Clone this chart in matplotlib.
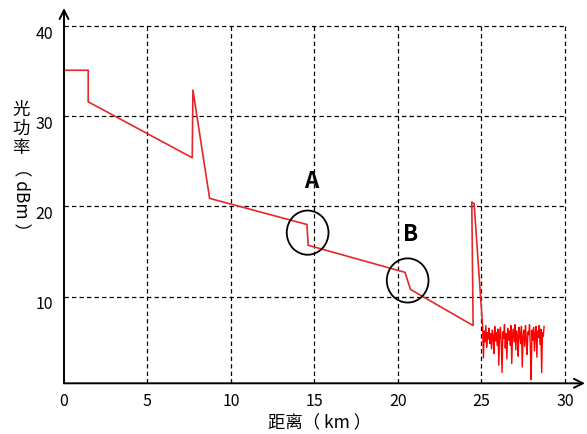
import matplotlib
matplotlib.use('Agg')
import matplotlib.pyplot as plt
import matplotlib.transforms as mtrans
from matplotlib.patches import Ellipse
import numpy as np

plt.rcParams['font.family'] = ['Noto Sans CJK SC', 'DejaVu Sans']

# main OTDR trace (distance km, power dBm)
trace_x = [0.1, 1.45, 1.45, 7.68, 7.72, 8.72, 14.55, 14.62, 20.42, 20.75, 24.5, 24.42, 24.56, 25.07]
trace_y = [35.1, 35.1, 31.6, 25.4, 32.9, 20.9, 18.0, 15.7, 12.7, 10.8, 6.8, 20.5, 20.3, 6.7]

# noise floor after fibre end
noise_start, noise_end = 25.07, 28.75
noise_y = [6.6, 3.2, 6.2, 5.0, 6.8, 4.4, 6.0, 5.3, 6.5, 4.8, 5.9, 4.2, 6.3, 5.6, 3.7, 6.7,
           5.1, 6.0, 4.6, 6.4, 2.4, 5.8, 6.6, 4.9, 1.6, 6.1, 5.4, 6.9, 4.3, 5.9, 3.1, 6.5,
           5.2, 6.2, 4.6, 6.8, 2.6, 5.7, 6.4, 5.0, 6.9, 4.1, 6.2, 5.5, 3.4, 6.6, 5.9, 4.8,
           6.7, 2.2, 5.6, 6.3, 4.5, 6.8, 5.3, 3.6, 6.1, 5.8, 6.9, 4.4, 0.8, 6.3, 5.2, 6.6,
           4.0, 5.9, 6.7, 3.3, 6.2, 5.5, 6.8, 4.7, 6.4, 1.6, 6.0, 5.6, 6.7]

x_ticks = [0, 5, 10, 15, 20, 25, 30]
y_ticks = [10, 20, 30, 40]

# event markers
events = ['A', 'B']
event_x = [14.59, 20.58]
event_y = [17.1, 11.8]
label_x = [14.79, 20.76]
label_y = [22.8, 16.9]

fig = plt.figure(figsize=(5.87, 4.34), dpi=100)
ax = fig.add_axes([64 / 587, 1 - 383.3 / 434, 521 / 587, 375.3 / 434])
ax.set_xlim(0, 31.2)
ax.set_ylim(0.4, 42)

# dashed grid box
for gx in x_ticks[1:]:
    ax.plot([gx, gx], [0.4, 40], color='black', lw=0.9, dashes=(3.5, 2.5), zorder=1)
for gy in y_ticks:
    ax.plot([0, 30], [gy, gy], color='black', lw=0.9, dashes=(3.5, 2.5), zorder=1)

ax.plot(trace_x, trace_y, color='#e5262b', lw=1.2, zorder=3)
nx = np.linspace(noise_start, noise_end, len(noise_y))
ax.plot(nx, noise_y, color='#ff0000', lw=1.0, zorder=3)

for name, ex, ey, lx, ly in zip(events, event_x, event_y, label_x, label_y):
    ax.add_patch(Ellipse((ex, ey), 2.5, 4.9, fill=False, ec='black', lw=1.3, zorder=4))
    ax.text(lx, ly, name, fontsize=16, fontweight='bold', ha='center', va='center', zorder=5)

# axes with arrows
for s in ax.spines.values():
    s.set_visible(False)
ax.annotate('', xy=(1, 0), xytext=(0, 0), xycoords='axes fraction',
            arrowprops=dict(arrowstyle='->', lw=1.4, color='black', mutation_scale=16,
                            shrinkA=0, shrinkB=0))
ax.annotate('', xy=(0, 1), xytext=(0, 0), xycoords='axes fraction',
            arrowprops=dict(arrowstyle='->', lw=1.4, color='black', mutation_scale=16,
                            shrinkA=0, shrinkB=0))

ax.set_xticks(x_ticks)
ax.set_yticks(y_ticks)
ax.tick_params(axis='both', direction='in', length=3, width=0.8, labelsize=11.5, colors='black')
ax.tick_params(axis='x', pad=7)
ax.tick_params(axis='y', pad=8, length=0)
off = mtrans.ScaledTranslation(0, -6 / 100, fig.dpi_scale_trans)
for lbl in ax.get_yticklabels():
    lbl.set_transform(lbl.get_transform() + off)

# vertical y label: upright CJK, rotated latin part
for ch, py in zip(['光', '功', '率'], [110, 129, 148]):
    fig.text(21 / 587, 1 - py / 434, ch, fontsize=12.5, ha='center', va='center')
fig.text(21 / 587, 1 - 199 / 434, '（ dBm ）', fontsize=12.5, rotation=-90, ha='center', va='center')

fig.text(320 / 587, 1 - 423 / 434, '距离（ km ）', fontsize=12.5, ha='center', va='center')

fig.savefig('out.png', dpi=100)
